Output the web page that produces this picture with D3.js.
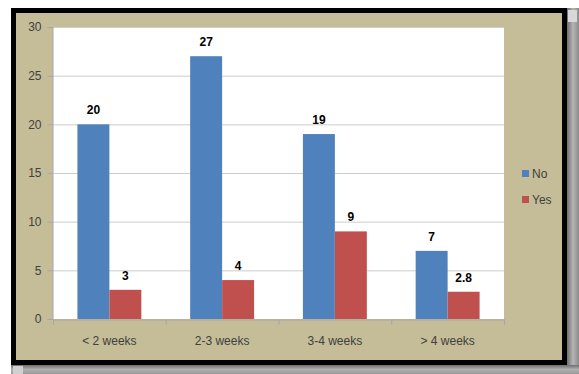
<!DOCTYPE html>
<html>
<head>
<meta charset="utf-8">
<script src="https://cdn.jsdelivr.net/npm/d3@7"></script>
<style>
  body { margin: 0; background: #fff; }
  svg { display: block; font-family: "Liberation Sans", Arial, sans-serif; }
</style>
</head>
<body>
<div id="chart"></div>
<script>
// chart data
var categories = ["< 2 weeks", "2-3 weeks", "3-4 weeks", "> 4 weeks"];
var seriesNames = ["No", "Yes"];
var noValues = [20, 27, 19, 7];
var yesValues = [3, 4, 9, 2.8];
var yTicks = [0, 5, 10, 15, 20, 25, 30];
var colors = ["#4F81BD", "#C0504D"];

var w = 579, h = 374;
var plot = { left: 53, right: 504, top: 27, bottom: 319 };

var svg = d3.select("#chart").append("svg")
  .attr("width", w)
  .attr("height", h);

// scrollbar-like gray strips (right and bottom)
var grad = svg.append("defs").append("linearGradient")
  .attr("id", "vbar").attr("x1", 0).attr("x2", 1).attr("y1", 0).attr("y2", 0);
grad.append("stop").attr("offset", "0%").attr("stop-color", "#6e6e6e");
grad.append("stop").attr("offset", "50%").attr("stop-color", "#b5b5b5");
grad.append("stop").attr("offset", "100%").attr("stop-color", "#8a8a8a");
var grad2 = svg.select("defs").append("linearGradient")
  .attr("id", "hbar").attr("x1", 0).attr("x2", 0).attr("y1", 0).attr("y2", 1);
grad2.append("stop").attr("offset", "0%").attr("stop-color", "#6e6e6e");
grad2.append("stop").attr("offset", "50%").attr("stop-color", "#b0b0b0");
grad2.append("stop").attr("offset", "100%").attr("stop-color", "#9a9a9a");

svg.append("rect").attr("x", 567).attr("y", 8).attr("width", 12).attr("height", h - 8)
  .attr("fill", "url(#vbar)");
svg.append("rect").attr("x", 11).attr("y", 365).attr("width", 568).attr("height", 9)
  .attr("fill", "url(#hbar)");
svg.append("rect").attr("x", 568).attr("y", 10).attr("width", 9).attr("height", 12)
  .attr("fill", "#d8d8d8");
svg.append("rect").attr("x", 13).attr("y", 366).attr("width", 10).attr("height", 8)
  .attr("fill", "#d0d0d0");

// black frame with tan background
svg.append("rect")
  .attr("x", 13.5).attr("y", 10.5)
  .attr("width", 551).attr("height", 352)
  .attr("fill", "#C4BD97")
  .attr("stroke", "#000")
  .attr("stroke-width", 5);

// plot area
svg.append("rect")
  .attr("x", plot.left).attr("y", plot.top)
  .attr("width", plot.right - plot.left).attr("height", plot.bottom - plot.top)
  .attr("fill", "#fff");

var x0 = d3.scaleBand()
  .domain(categories)
  .range([plot.left, plot.right])
  .paddingInner(0.433)
  .paddingOuter(0.2165);

var x1 = d3.scaleBand()
  .domain(seriesNames)
  .range([0, x0.bandwidth()]);

var y = d3.scaleLinear()
  .domain([0, 30])
  .range([plot.bottom, plot.top]);

// gridlines
svg.append("g")
  .selectAll("line")
  .data(yTicks.slice(1))
  .enter()
  .append("line")
  .attr("x1", plot.left).attr("x2", plot.right)
  .attr("y1", function(d) { return y(d) + 0.5; })
  .attr("y2", function(d) { return y(d) + 0.5; })
  .attr("stroke", "#cccccc")
  .attr("stroke-width", 1);

// y axis
var yAxis = svg.append("g")
  .attr("transform", "translate(" + (plot.left - 0.5) + ",0)")
  .call(d3.axisLeft(y).tickValues(yTicks).tickSize(5).tickPadding(6));
yAxis.select(".domain").attr("stroke", "#a6a6a6");
yAxis.selectAll(".tick line").attr("stroke", "#a6a6a6");
yAxis.selectAll("text")
  .attr("fill", "#404040")
  .style("font-size", "12px");

// x axis
var xAxis = svg.append("g")
  .attr("transform", "translate(0," + (plot.bottom + 0.5) + ")")
  .call(d3.axisBottom(d3.scaleLinear().domain([0, 4]).range([plot.left, plot.right]))
    .ticks(4).tickSize(5).tickFormat(""));
xAxis.select(".domain").attr("stroke", "#a6a6a6");
xAxis.selectAll(".tick line").attr("stroke", "#a6a6a6");

svg.append("g")
  .selectAll("text")
  .data(categories)
  .enter()
  .append("text")
  .attr("x", function(d) { return x0(d) + x0.bandwidth() / 2; })
  .attr("y", 345)
  .attr("text-anchor", "middle")
  .attr("fill", "#404040")
  .style("font-size", "12px")
  .text(function(d) { return d; });

// bars
var groups = svg.append("g")
  .selectAll("g")
  .data(categories)
  .enter()
  .append("g")
  .attr("transform", function(d) { return "translate(" + x0(d) + ",0)"; });

var barData = function(d, i) {
  return [
    { key: "No", value: noValues[i] },
    { key: "Yes", value: yesValues[i] }
  ];
};

groups.selectAll("rect")
  .data(barData)
  .enter()
  .append("rect")
  .attr("x", function(d) { return x1(d.key); })
  .attr("y", function(d) { return y(d.value); })
  .attr("width", x1.bandwidth())
  .attr("height", function(d) { return plot.bottom - y(d.value); })
  .attr("fill", function(d, j) { return colors[j]; });

groups.selectAll("text")
  .data(barData)
  .enter()
  .append("text")
  .attr("x", function(d) { return x1(d.key) + x1.bandwidth() / 2; })
  .attr("y", function(d) { return y(d.value) - 10; })
  .attr("text-anchor", "middle")
  .attr("font-weight", "bold")
  .attr("fill", "#000")
  .style("font-size", "12px")
  .text(function(d) { return d.value; });

// legend
var legend = svg.append("g")
  .selectAll("g")
  .data(seriesNames)
  .enter()
  .append("g")
  .attr("transform", function(d, i) { return "translate(522," + (174 + i * 26) + ")"; });

legend.append("rect")
  .attr("x", 0).attr("y", -4)
  .attr("width", 7).attr("height", 7)
  .attr("fill", function(d, i) { return colors[i]; });

legend.append("text")
  .attr("x", 10)
  .attr("y", 0)
  .attr("dy", "0.35em")
  .attr("fill", "#404040")
  .style("font-size", "12px")
  .text(function(d) { return d; });
</script>
</body>
</html>
